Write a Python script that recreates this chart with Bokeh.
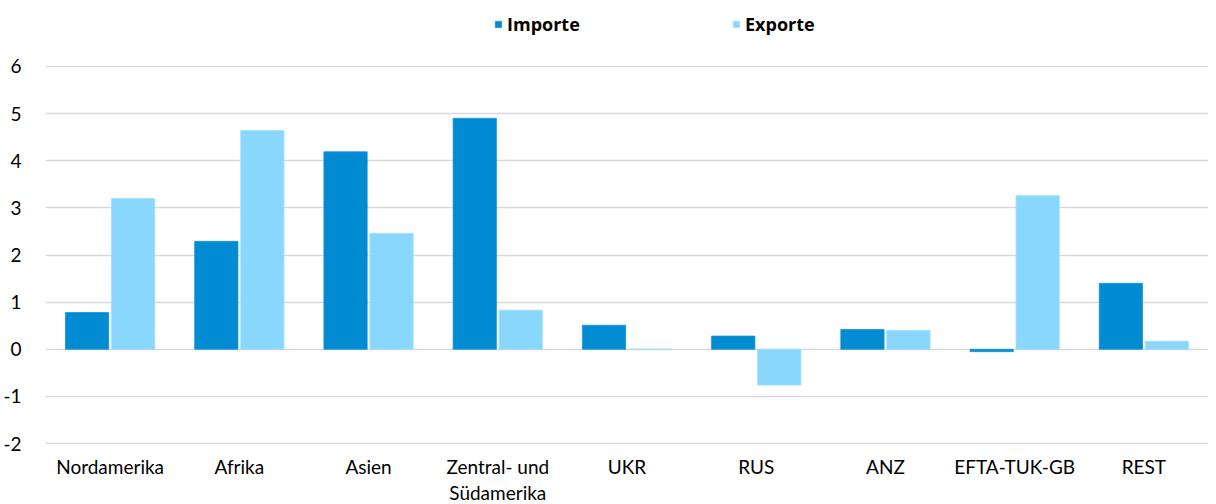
from bokeh.plotting import figure
from bokeh.models import ColumnDataSource, FactorRange, Range1d, Legend, LegendItem, FixedTicker, PrintfTickFormatter
from bokeh.transform import dodge
from bokeh.embed import file_html
from bokeh.resources import INLINE

categories = ["Nordamerika", "Afrika", "Asien", "Zentral- und\nSüdamerika", "UKR", "RUS", "ANZ", "EFTA-TUK-GB", "REST"]
importe = [0.78, 2.29, 4.19, 4.90, 0.51, 0.28, 0.42, -0.05, 1.40]
exporte = [3.20, 4.64, 2.46, 0.83, 0.0, -0.76, 0.40, 3.26, 0.17]
y_ticks = [-2, -1, 0, 1, 2, 3, 4, 5, 6]

src = ColumnDataSource(dict(cat=categories, imp=importe, exp=exporte))

p = figure(frame_width=1163, frame_height=436, x_range=FactorRange(*categories), y_range=Range1d(-2.02, 7.23),
           output_backend="svg", toolbar_location=None,
           min_border_left=37, min_border_right=0, min_border_top=8, min_border_bottom=60)
p.outline_line_color = None
p.background_fill_color = "white"
p.border_fill_color = "white"

r1 = p.vbar(x=dodge("cat", -0.178, range=p.x_range), top="imp", width=0.335, source=src,
            fill_color="#008BD3", line_color="#1A96D8", line_width=0.8)
r2 = p.vbar(x=dodge("cat", 0.178, range=p.x_range), top="exp", width=0.335, source=src,
            fill_color="#8AD7FE", line_color="#A0DEFF", line_width=0.8)

p.x_range.range_padding = 0
p.x_range.group_padding = 0

p.xgrid.grid_line_color = None
p.ygrid.grid_line_color = "#D9D9D9"
p.ygrid.grid_line_width = 1.5
p.yaxis.ticker = FixedTicker(ticks=y_ticks)
p.yaxis.formatter = PrintfTickFormatter(format="%d")

for ax in (p.xaxis[0], p.yaxis[0]):
    ax.axis_line_color = None
    ax.major_tick_line_color = None
    ax.minor_tick_line_color = None
    ax.major_label_text_font = "Lato"
    ax.major_label_text_font_size = "19px"
    ax.major_label_text_color = "#000000"

p.xaxis.major_label_text_line_height = 1.15
p.yaxis.major_label_standoff = 18
p.xaxis.major_label_standoff = 4

legend = Legend(items=[LegendItem(label="Importe", renderers=[r1]),
                       LegendItem(label="Exporte", renderers=[r2])],
                orientation="horizontal", location=(449, 408))
legend.label_text_font = "Open Sans"
legend.label_text_font_style = "bold"
legend.label_text_font_size = "18px"
legend.label_text_color = "#000000"
legend.glyph_width = 8
legend.glyph_height = 8
legend.label_standoff = 5
legend.label_width = 85
legend.spacing = 140
legend.padding = 4
legend.margin = 0
legend.border_line_color = None
legend.background_fill_alpha = 0
p.add_layout(legend, "center")

open("out.html", "w").write(file_html(p, INLINE))
